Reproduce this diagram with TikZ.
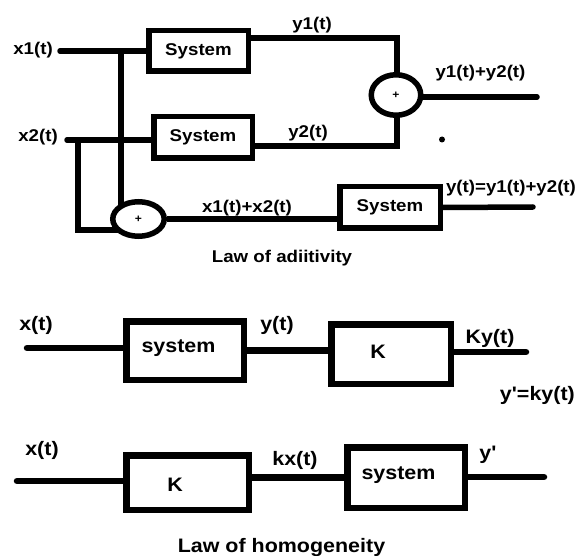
\documentclass[tikz,border=0pt]{standalone}
\usepackage{fontspec}
% plain family: no TeX ligature mapping, so ' stays a straight quote
\newfontfamily\labfont{Liberation Sans}[FakeStretch=1.1]
\usetikzlibrary{shapes.geometric,calc}
\pgfdeclarelayer{background}
\pgfsetlayers{background,main}
\begin{document}
\begin{tikzpicture}[x=1pt,y=-1pt,
  wire/.style={line width=5.5pt,line cap=round},
  bwire/.style={line width=6.5pt,line cap=round},
  blk/.style={draw,line width=5.5pt,fill=white,inner sep=0pt,font=\labfont\fontsize{17}{19}\selectfont\bfseries},
  bblk/.style={draw,line width=6.5pt,fill=white,inner sep=0pt},
  summer/.style={draw,ellipse,line width=5.5pt,fill=white,inner sep=0pt,font=\labfont\fontsize{11}{12}\selectfont\bfseries},
  lbl/.style={inner sep=0pt,font=\labfont\fontsize{17}{19}\selectfont\bfseries},
  blbl/.style={inner sep=0pt,font=\labfont\fontsize{19.5}{21}\selectfont\bfseries}]
\clip (0,0) rectangle (576,556);

% ---------------- law of additivity ----------------
\node[blk,minimum width=99.5,minimum height=40.5] (s1) at (198.5,51) {System};
\node[blk,minimum width=98.5,minimum height=41.5] (s2) at (203,137.5) {System};
\node[blk,minimum width=100.5,minimum height=41.5] (s3) at (390,207.5) {System};
\node[summer,minimum width=49.5,minimum height=40.5] (c1) at (396,95) {+};
\node[summer,minimum width=51.5,minimum height=34.5] (c2) at (138.5,219) {+};

\coordinate (x1in) at (60,51);
\coordinate (j1) at (121,51);
\coordinate (x2in) at (67,140);
\coordinate (j2) at (78,140);
\coordinate (j2b) at (78,230);
\coordinate (y1c) at (397,38);
\coordinate (y2c) at (397,146);
\coordinate (o1) at (537,97);
\coordinate (o3) at (533,207);

\draw[wire] (x1in) -- (s1.west);
\draw[wire] (x2in) -- (x2in -| s2.west);
\begin{pgfonlayer}{background}
  \draw[wire,line cap=butt] (j1) -- (j1 |- c2.center);
  \draw[wire,line cap=butt] (j2) -- (j2b) -- (j2b -| c2.center);
  \draw[wire,line cap=butt] (s1.east |- y1c) -- (y1c) -- (y1c |- c1.center);
  \draw[wire,line cap=butt] (s2.east |- y2c) -- (y2c) -- (y2c |- c1.center);
\end{pgfonlayer}
\draw[wire,line cap=butt] (c2.east) -- (c2.east -| s3.west);
\draw[wire] (s3.east) -- (o3);
\draw[wire] (c1.east |- o1) -- (o1);
\fill (442,139.5) circle (3);

\node[lbl] (lx1) at (33,50) {x1(t)};
\node[lbl] (lx2) at (38,137) {x2(t)};
\node[lbl] (ly1) at (312,25) {y1(t)};
\node[lbl] (ly2) at (308,133) {y2(t)};
\node[lbl] (lsum) at (480.5,73) {y1(t)+y2(t)};
\node[lbl] (lxs) at (247,208) {x1(t)+x2(t)};
\node[lbl] (lys) at (511,188) {y(t)=y1(t)+y2(t)};
\node[lbl] (ladd) at (282,258) {Law of adiitivity};

% ---------------- law of homogeneity ----------------
\node[bblk,minimum width=117.5,minimum height=58.5] (bs1) at (185,350.5) {};
\node[bblk,minimum width=119.5,minimum height=59.5] (bk1) at (391,354) {};
\node[blbl] (ts1) at ($(bs1.center)+(-6.5,-2.5)$) {system};
\node[blbl] (tk1) at ($(bk1.center)+(-13,-2)$) {K};
\coordinate (in1) at (27,348);
\coordinate (out1) at (526,352);
\draw[bwire] (in1) -- (in1 -| bs1.west);
\draw[bwire,line cap=butt] (bs1.east) -- (bs1.east -| bk1.west);
\draw[bwire] (bk1.east |- out1) -- (out1);
\node[blbl] (bx1) at (36,325) {x(t)};
\node[blbl] (by1) at (277,325) {y(t)};
\node[blbl] (bky) at (490,338) {Ky(t)};
\node[blbl,anchor=east] (byp) at (575,395) {y'=ky(t)};

\node[bblk,minimum width=122.5,minimum height=54.5] (bk2) at (187.5,482.5) {};
\node[bblk,minimum width=117.5,minimum height=60.5] (bs2) at (406,477.5) {};
\node[blbl] (tk2) at ($(bk2.center)+(-12.5,2.5)$) {K};
\node[blbl] (ts2) at ($(bs2.center)+(-7.5,-2.5)$) {system};
\coordinate (in2) at (17,481);
\coordinate (out2) at (544,477);
\draw[bwire] (in2) -- (in2 -| bk2.west);
\draw[bwire,line cap=butt] (bk2.east |- bs2.west) -- (bs2.west);
\draw[bwire] (bs2.east |- out2) -- (out2);
\node[blbl] (bx2) at (42,450) {x(t)};
\node[blbl] (bkx) at (295,460) {kx(t)};
\node[blbl] (byq) at (488,455) {y'};
\node[blbl] (lhom) at (281.5,547) {Law of homogeneity};
\end{tikzpicture}
\end{document}
